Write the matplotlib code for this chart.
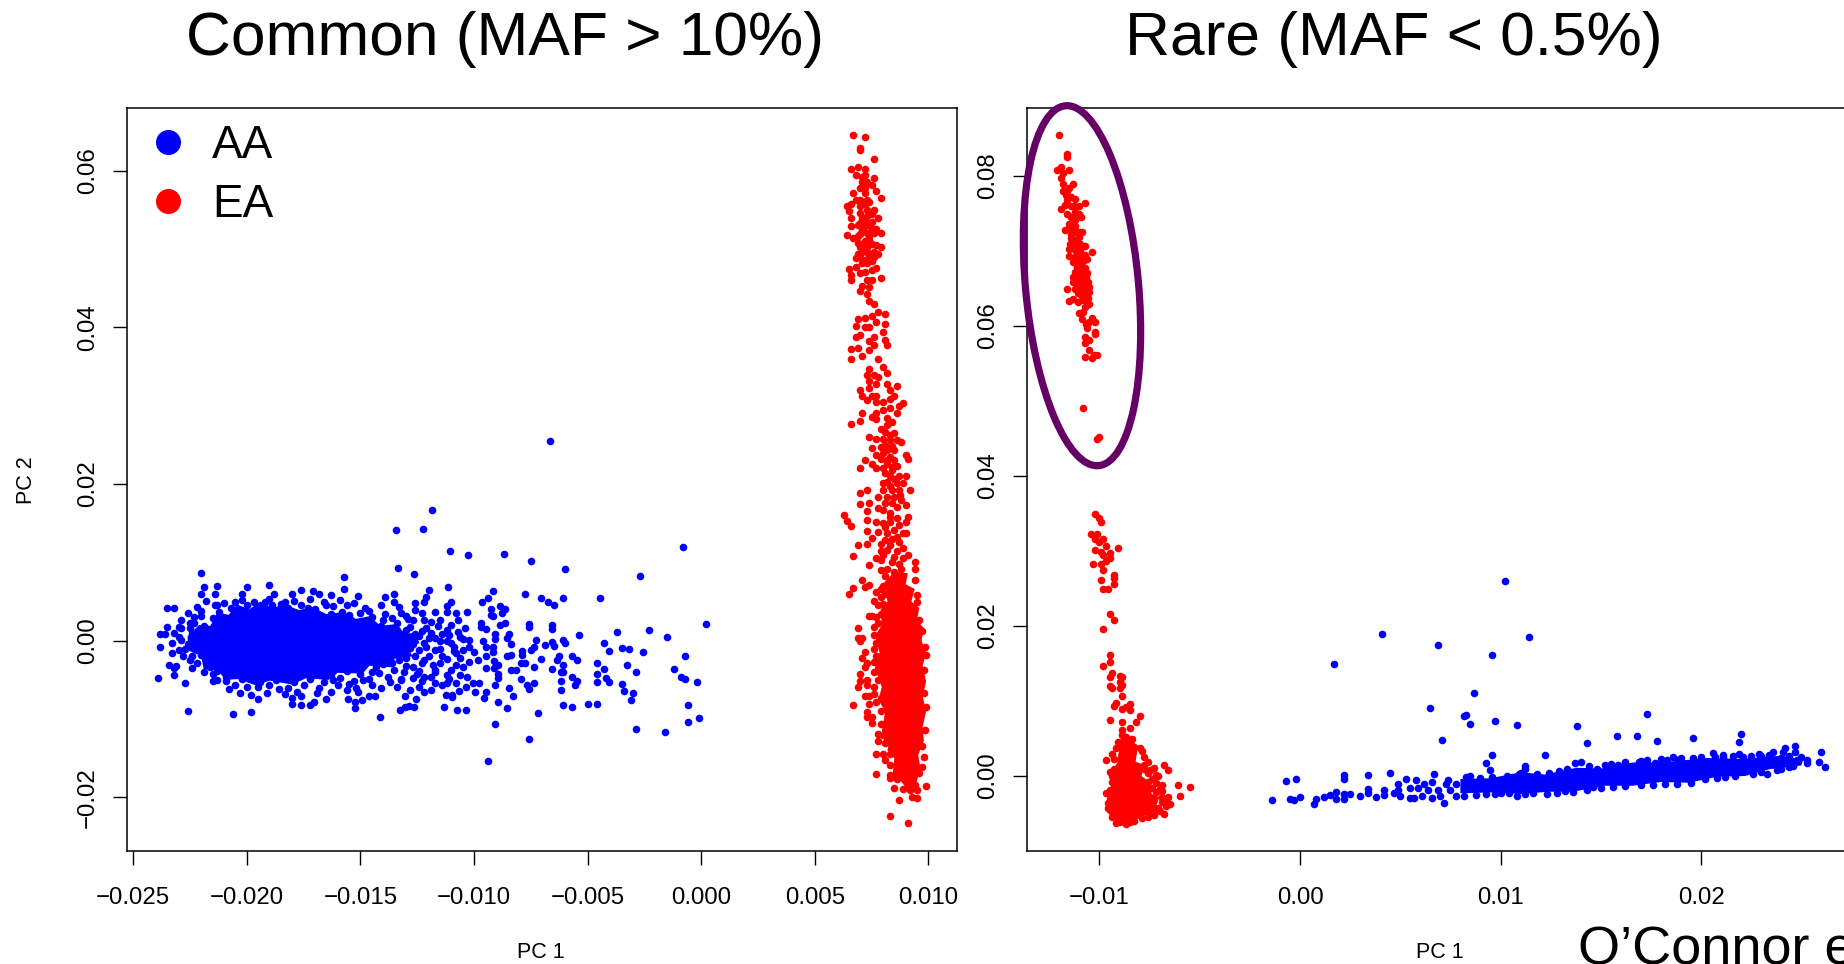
import numpy as np
import matplotlib
matplotlib.use('Agg')
import matplotlib.pyplot as plt
from matplotlib.lines import Line2D
from matplotlib.patches import Ellipse
from matplotlib.transforms import IdentityTransform

# all PC values below are in units of 1e-3 as (PC1, PC2)
common_aa = [
    (-6.67,25.5),(-11.84,16.7),(-12.25,14.3),(-13.45,14.1),(-11.04,11.4),(-10.26,11.0),(-8.67,11.1),(-7.47,10.2),
    (-5.98,9.1),(-0.80,11.9),(-2.69,8.3),(-13.34,9.3),(-12.65,8.5),(-22.0,8.7),(-15.74,8.1),(-15.74,6.6),
    (-19.0,7.1),(-11.14,6.9),(-11.96,6.5),(-7.76,6.0),(-9.15,6.4),(-4.47,5.4),(-6.07,5.5),(-7.07,5.4),(-6.76,4.9),
    (-6.46,4.5),(-9.36,5.4),(-9.65,4.9),(-8.86,4.4),(-8.65,4.1),(-9.25,4.1),(-8.75,3.5),(-9.25,3.3),(-9.15,3.2),
    (-8.86,2.0),(-8.65,2.3),(-7.57,2.1),(-7.57,1.8),(-6.57,2.0),(-6.57,1.5),(0.2,2.1),(-2.29,1.4),(-3.69,1.1),
    (-1.49,0.5),(-5.37,0.7),(-4.28,-0.3),(-6.07,0.1),(-5.98,-0.3),(-7.26,0.1),(-7.37,-0.8),(-7.47,-1.2),(-6.86,-0.5),
    (-6.57,-0.2),(-6.46,-0.7),(-4.07,-1.3),(-3.48,-0.9),(-3.19,-1.1),(-2.58,-1.4),(-0.69,-1.9),(-5.67,-1.9),
    (-5.46,-2.5),(-6.27,-2.0),(-6.36,-2.5),(-7.07,-2.3),(-7.87,-1.3),(-7.87,-1.8),(-7.76,-2.9),(-7.95,-2.9),
    (-6.07,-3.1),(-7.37,-3.3),(-6.57,-3.6),(-6.15,-4.0),(-6.07,-4.0),(-4.58,-2.8),(-4.28,-3.6),(-3.28,-3.1),
    (-2.88,-4.0),(-1.18,-3.6),(-0.88,-4.6),(-0.69,-4.9),(-0.19,-5.3),(-4.58,-4.3),(-4.58,-5.3),(-4.18,-4.8),
    (-4.07,-5.3),(-3.48,-5.5),(-3.38,-6.4),(-2.98,-6.7),(-3.08,-7.6),(-5.67,-4.6),(-5.46,-5.1),(-5.56,-5.7),
    (-6.17,-5.2),(-6.17,-6.3),(-6.07,-8.2),(-5.67,-8.5),(-4.97,-8.1),(-4.58,-8.1),(-0.59,-8.2),(-0.59,-10.4),
    (-0.09,-9.9),(-1.58,-11.6),(-2.88,-11.3),(-7.16,-9.2),(-7.57,-12.5),(-9.36,-15.4),(-9.06,-10.6),(-8.56,-8.6),
    (-8.96,-7.8),(-9.55,-7.3),(-9.45,-6.5),(-9.95,-6.5),(-8.27,-7.1),(-8.46,-6.0),(-9.06,-5.7),(-7.95,-4.9),
    (-7.66,-5.6),(-7.57,-6.1),(-7.37,-5.4),(-8.37,-3.7),(-8.16,-3.8),(-8.96,-4.8),(-8.96,-4.2),(-9.1,-3.5),
    (-9.45,-3.5),(-8.96,-3.1),(-9.1,-2.6),(-9.45,-2.0),(-8.37,-1.8),(-8.56,-2.0),(-8.46,0.9),(-8.56,0.4),(-8.37,-0.4),
    (-9.06,0.9),(-9.06,0.2),(-9.45,1.5),(-9.15,-0.8),(-9.15,-1.5),(-9.45,-0.8),(-10.05,-5.4),(-9.76,-5.4),(-10.35,-5.9),
    (-10.35,-8.8),(-10.75,-8.8),(-11.33,-8.5),(-10.66,-6.4),(-10.95,-6.9),(-10.95,-7.2),(-11.25,-6.9),(-12.65,-8.4),
    (-12.84,-8.3),(-13.05,-8.4),(-13.24,-8.9),(-12.53,-7.5),(-13.03,-7.1),(-14.14,-9.7),(-15.23,-8.6),(-15.23,-7.8),
    (-14.94,-7.6),(-15.53,-7.4),(-14.64,-7.0),(-14.35,-7.0),(-16.53,-7.5),(-17.04,-7.8),(-17.23,-8.2),(-17.63,-8.2),
    (-18.02,-8.1),(-18.02,-7.3),(-17.63,-7.1),(-19.81,-9.1),(-20.61,-9.4),(-22.6,-9.0),(-22.7,-5.4),(-23.9,-4.8),
    (-23.8,-0.8),(-23.8,0.9),(-23.6,0.9),(-23.5,1.8),(-23.2,4.2),(-23.5,4.2),(-23.4,-3.1),(-23.2,-4.4),(-23.2,-3.5),
    (-23.1,-3.2),(-23.3,-1.6),(-23.3,-0.3),(-23.0,1.8),(-22.9,1.6),(-23.0,-1.2),(-22.8,-2.0),(-22.4,-3.5),(-22.4,-2.0),
    (-21.9,-4.0),(-21.5,-4.2),(-21.5,-5.1),(-21.3,-5.0),(-20.8,-6.2),(-20.5,-5.7),(-20.3,-6.7),(-19.8,-6.9),(-19.5,-7.5),
    (-19.1,-6.7),(-19.5,-5.9),(-18.6,-6.1),(-18.3,-6.8),(-17.8,-6.5),(-16.9,-6.7),(-16.3,-6.5),(-15.6,-6.3),(-15.1,-6.5),
    (-14.1,-6.0),(-13.4,-5.9),(-12.8,-6.3),(-12.2,-6.5),(-11.9,-6.3),(-11.4,-5.7),(-10.8,-5.4),(-21.9,6.9),(-21.3,7.0),
    (-20.0,6.8),(-22.0,6.0),(-21.4,6.0),(-20.2,5.9),(-18.8,6.0),(-18.0,6.0),(-17.6,6.5),(-17.1,6.4),(-16.8,6.0),(-16.3,5.8),
    (-15.1,5.7),(-13.9,5.6),(-13.5,5.9),(-13.5,4.9),(-12.1,5.6),(-12.2,4.9),(-12.6,4.8),(-11.0,5.0),(-11.2,4.4),(-11.2,3.7),
    (-11.7,3.7),(-10.8,3.5),(-10.3,3.7),(-10.7,2.6),(-11.5,2.6),(-10.4,1.6),(-9.7,2.2),(-9.7,1.8),(-13.1,0.9),(-12.6,0.9),
    (-12.1,1.6),(-11.2,1.4),(-10.6,0.5),(-10.2,0.1),(-9.6,-0.1),(-10.5,-1.2),(-10.0,-1.4),(-11.0,-0.3),(-11.4,0.9),(-12.2,2.6),
    (-12.7,2.6),(-13.4,2.2),(-14.0,2.6),(-14.5,3.0),(-13.2,3.5),(-12.6,3.9),(-13.1,-1.6),(-12.4,-1.2),(-11.7,-1.2),(-11.2,-2.3),
    (-10.8,-1.6),(-10.2,-2.7),(-9.8,-2.5),(-10.5,-3.3),(-10.8,-3.1),(-11.7,-3.7),(-12.2,-2.5),(-12.7,-3.3),(-13.4,-1.6),
    (-13.8,-4.6),(-13.2,-5.0),(-12.7,-4.8),(-12.2,-4.6),(-11.9,-4.6),(-11.2,-4.4),(-10.6,-4.4),(-10.3,-4.6),(-11.2,-5.4),
    (-11.7,-5.4),(-12.4,-5.9),(-14.5,-4.0),(-14.9,-5.0),(-15.5,-5.5),(-16.2,-5.0),(-14.0,-3.0),(-13.5,-3.8),(-13.0,-2.2),
    (-12.4,-3.9),(-11.5,-2.9),(-10.9,-0.8),(-11.5,0.0),(-12.0,0.3),(-12.9,0.2),(-13.6,0.7),(-14.2,1.3),(-15.0,3.5),(-15.8,3.7),
    (-16.5,4.5),(-17.3,4.2),(-18.3,4.9),(-19.2,5.0),(-20.5,5.0),(-21.3,4.5),(-22.0,3.8),(-22.3,3.0),(-22.5,2.3),
    # denser ring round the core
    (-21.8,5.1),(-21.0,4.8),(-20.2,5.2),(-19.7,4.9),(-19.0,5.3),(-18.5,4.7),(-17.9,5.1),(-17.2,5.3),(-16.6,4.9),(-15.9,5.2),(-15.3,4.8),
    (-22.2,4.3),(-21.4,4.6),(-20.7,4.2),(-20.0,4.5),(-19.4,4.2),(-18.9,4.5),(-18.2,4.2),(-17.6,4.6),(-17.0,4.1),(-16.2,4.4),(-15.6,4.5),
    (-14.8,4.2),(-14.1,4.5),(-13.3,4.3),(-22.6,3.5),(-22.0,3.2),(-21.2,3.7),(-20.5,3.9),(-18.6,3.9),(-17.8,3.6),(-17.0,3.7),(-16.3,3.4),
    (-15.5,3.3),(-14.6,3.8),(-13.9,3.4),(-13.0,3.2),(-12.3,3.5),(-22.9,2.6),(-22.3,2.2),(-21.5,2.9),(-17.9,3.0),(-17.1,2.9),(-16.0,2.9),
    (-15.4,2.7),(-14.7,2.6),(-13.6,2.9),(-12.9,2.8),(-11.9,2.4),(-23.2,1.0),(-22.5,1.6),(-21.9,1.9),(-15.0,2.1),(-14.1,1.9),(-13.4,1.4),
    (-12.8,1.8),(-12.3,1.2),(-11.6,1.9),(-11.0,2.0),(-23.0,0.5),(-22.4,1.0),(-13.9,1.0),(-13.0,1.4),(-12.4,0.6),(-11.9,1.0),(-11.1,0.7),
    (-10.7,1.1),(-22.9,0.1),(-22.6,-0.4),(-13.3,0.0),(-12.7,-0.4),(-12.2,-0.3),(-11.7,0.4),(-11.2,-0.1),(-10.5,0.2),(-22.7,-1.0),(-13.3,-1.0),
    (-12.8,-0.9),(-12.1,-0.8),(-11.5,-1.0),(-10.9,-1.3),(-10.2,-0.8),(-22.5,-2.4),(-22.0,-1.8),(-14.4,-2.0),(-13.7,-2.3),(-13.3,-2.4),(-12.6,-2.0),
    (-12.0,-1.9),(-11.4,-2.0),(-10.6,-2.2),(-22.2,-2.9),(-21.6,-3.3),(-15.6,-3.1),(-15.0,-2.8),(-14.3,-3.4),(-13.6,-2.9),(-13.0,-3.2),(-12.3,-2.9),
    (-11.8,-3.1),(-21.3,-3.9),(-20.9,-4.6),(-16.9,-4.2),(-16.3,-4.4),(-15.6,-3.9),(-15.0,-4.3),(-14.2,-4.1),(-13.1,-4.0),(-12.5,-4.2),(-11.7,-4.0),
    (-11.0,-3.8),(-20.9,-5.2),(-20.2,-4.9),(-19.4,-5.3),(-18.7,-5.0),(-17.9,-5.3),(-17.2,-4.9),(-16.6,-5.3),(-15.9,-4.8),(-15.3,-5.2),(-14.6,-4.9),
    (-13.7,-5.3),(-13.2,-4.9),(-12.3,-5.2),(-11.1,-4.9),(-20.0,-5.9),(-19.0,-5.6),(-18.2,-6.0),(-17.5,-5.7),(-16.8,-6.0),(-16.0,-5.6),(-15.2,-6.0),(-14.5,-5.6),
]
# outline of the saturated part of each cloud, single points can't be read there
common_aa_core = [
    (-22.6,0.6),(-22.1,2.0),(-21.6,1.9),(-21.3,3.6),(-20.8,3.3),(-20.4,4.6),(-19.9,4.0),(-19.4,5.0),(-18.9,4.2),(-18.3,4.6),
    (-17.7,3.9),(-17.1,4.3),(-16.5,3.4),(-15.9,3.6),(-15.2,2.8),(-14.6,3.1),(-14.1,1.9),(-13.5,2.1),(-13.0,0.9),(-12.6,1.0),
    (-12.4,-0.3),(-12.9,-0.9),(-12.7,-2.0),(-13.5,-2.3),(-13.6,-3.4),(-14.6,-3.2),(-14.9,-4.2),(-16.0,-4.1),(-16.4,-5.0),(-17.4,-4.8),
    (-18.0,-5.6),(-19.0,-5.1),(-19.6,-5.7),(-20.4,-4.9),(-20.9,-5.0),(-21.3,-3.8),(-21.9,-3.6),(-22.0,-2.0),(-22.6,-1.2),
]

common_ea = [
    (6.70,64.6),(7.20,64.3),(6.99,62.9),(6.99,62.6),(7.60,61.5),(6.6,60.2),(6.9,60.4),(7.2,60.2),(6.8,59.4),(7.1,59.2),
    (7.6,59.1),(7.1,58.6),(7.5,58.2),(7.0,57.8),(6.7,57.2),(7.7,57.4),(7.9,56.5),(7.2,57.1),(6.8,56.3),(6.4,55.5),(6.6,55.8),
    (6.5,54.8),(7.0,56.3),(7.3,56.3),(7.6,55.0),(7.8,53.9),(6.6,53.9),(7.0,54.6),(7.3,55.0),(6.6,52.9),(6.4,51.8),(6.7,51.4),
    (7.9,52.0),(7.7,52.6),(7.0,53.3),(7.2,53.7),(7.4,53.1),(7.1,52.4),(7.3,52.0),(7.6,52.0),(6.9,51.6),(7.2,51.0),(7.4,51.2),
    (7.7,50.5),(7.9,50.3),(7.8,49.4),(7.6,49.0),(7.3,50.3),(7.0,50.3),(6.8,48.8),(7.0,49.0),(7.2,48.6),(7.4,49.2),(6.5,47.4),
    (6.8,47.7),(6.6,46.7),(6.6,46.0),(7.0,46.9),(7.2,47.0),(7.7,47.6),(7.5,47.3),(7.9,46.3),(7.5,46.0),(7.1,45.3),(7.3,46.0),
    (7.4,45.2),(7.0,44.6),(7.3,44.2),(7.4,43.3),(7.6,43.0),(7.8,42.0),(7.5,41.4),(8.1,41.7),(6.9,41.1),(7.2,41.2),(7.7,40.7),
    (8.1,40.4),(6.8,40.2),(7.2,40.1),(7.4,40.0),(8.0,39.4),(7.0,39.0),(6.8,38.7),(7.6,38.7),(7.4,38.3),(8.1,38.4),(8.2,37.7),
    (6.6,37.2),(6.9,37.4),(7.6,37.7),(7.4,37.1),(7.1,36.3),(6.6,36.0),(7.8,36.0),(8.0,34.9),(7.4,34.7),(8.2,34.2),(7.3,33.9),
    (7.6,33.9),(7.8,33.7),(7.4,33.1),(7.7,32.8),(8.6,32.5),(8.2,32.7),(7.0,32.0),(7.4,32.2),(7.1,31.2),(7.3,30.7),(7.5,31.2),
    (7.7,31.2),(8.0,30.5),(8.3,32.0),(8.5,31.2),(8.3,30.9),(8.9,30.3),(8.7,30.0),(7.7,30.5),(8.3,29.7),(8.6,29.0),(7.1,29.1),
    (8.0,29.4),(7.7,29.0),(7.5,28.6),(7.7,28.3),(7.0,28.0),(6.6,27.7),(8.2,28.4),(8.4,27.9),(8.2,27.5),(8.5,26.5),(8.1,26.7),
    (7.4,26.0),(7.7,25.8),(8.8,25.3),(8.3,25.6),(8.5,24.3),(7.5,24.6),(7.9,24.7),(8.2,24.3),(7.7,23.7),(9.0,23.7),(9.1,23.2),
    (7.2,23.0),(7.5,22.5),(7.0,22.1),(7.7,22.0),(8.6,22.3),(8.2,22.6),(8.4,21.8),(8.1,21.4),(8.7,21.0),(9.0,21.0),
    (7.0,18.9),(7.3,19.2),(7.0,17.4),(7.4,17.6),(7.8,17.0),(7.3,16.6),(6.3,16.1),(6.4,15.3),(6.6,14.7),(7.3,15.4),(7.7,15.1),
    (7.3,14.0),(7.5,13.1),(6.9,12.2),(7.3,12.3),(6.7,10.8),(7.4,9.7),(7.9,11.4),(7.7,10.6),(9.2,19.2),(9.0,17.3),(9.1,15.8),
    (9.0,15.1),(9.0,13.8),(9.1,10.9),(9.4,10.0),(9.4,9.1),(9.4,7.8),(9.5,5.8),(9.5,5.0),(7.1,7.7),(7.4,7.1),(7.2,6.8),(6.7,6.7),
    (6.5,6.0),(7.7,6.2),(7.6,5.1),(7.9,5.6),(8.0,4.7),(7.4,3.1),(7.5,3.1),(6.9,1.6),(6.9,0.4),(7.1,0.4),(7.0,0.0),(7.6,1.8),
    (7.6,0.7),(7.7,-0.3),(7.2,-1.4),(7.1,-2.2),(7.6,-2.7),(7.3,-2.8),(7.2,-3.3),(7.0,-4.3),(7.0,-5.1),(6.9,-5.9),(7.3,-5.0),
    (7.3,-5.7),(7.6,-4.0),(7.6,-5.9),(7.8,-5.0),(7.2,-7.1),(7.4,-7.1),(6.7,-8.2),(7.4,-8.1),(7.7,-7.8),(7.3,-9.1),(7.5,-9.7),
    (7.3,-9.8),(7.5,-10.5),(7.9,-10.6),(7.8,-11.9),(7.8,-12.8),(8.1,-13.0),(7.7,-14.4),(8.0,-14.4),(8.3,-14.4),(8.1,-15.2),
    (7.7,-17.0),(8.3,-17.1),(8.3,-17.5),(8.6,-16.7),(8.6,-17.7),(8.9,-18.9),(8.7,-20.3),(9.3,-19.9),(9.5,-20.1),(9.9,-18.5),
    (8.3,-22.4),(9.1,-23.3),(9.9,-1.8),(9.9,-8.5),(9.8,-14.9),(9.7,-16.1),(9.6,-16.9),(9.7,1.3),(9.6,2.6),(9.85,-0.8),(9.8,-3.7),
    (9.8,-6.7),(9.85,-11.4),(9.7,-13.5),(9.4,-18.4),(9.1,-18.4),(8.0,20.1),(8.3,19.7),(8.6,20.1),(8.9,20.1),(8.2,18.4),(8.5,18.4),
    (8.75,18.6),(8.0,16.7),(8.3,16.3),(8.6,17.1),(8.0,15.0),(8.3,15.2),(8.6,15.6),(7.8,13.9),(8.2,13.7),(8.5,14.1),(8.9,13.7),
    (8.7,12.6),(8.3,12.2),(7.9,12.4),(8.6,11.4),(8.2,11.6),(7.9,10.3),(8.5,10.7),(8.9,10.5),(8.2,9.2),(7.9,9.0),(8.5,8.8),
    # filling in the busy stretches of the column
    (7.0,55.5),(7.2,55.8),(7.4,56.0),(7.1,54.0),(7.3,54.2),(7.5,54.5),(6.9,53.0),(7.2,52.9),(7.5,53.4),(7.0,51.9),(7.4,51.7),(7.5,52.6),
    (6.9,50.7),(7.1,50.6),(7.5,50.6),(7.1,49.6),(7.3,49.6),(7.6,49.6),(6.9,49.3),(7.3,48.2),(7.1,48.2),(7.5,48.4),(7.2,57.8),(7.3,58.6),(7.2,59.5),
    (7.9,27.0),(8.0,25.8),(8.3,26.2),(8.1,25.0),(8.4,24.8),(8.6,25.6),(8.0,24.0),(8.3,23.5),(8.5,23.0),(7.9,23.2),(8.2,23.0),(8.0,22.0),(8.4,22.2),
    (8.3,21.0),(8.5,20.6),(8.2,20.3),(8.0,19.2),(8.4,19.2),(8.7,19.2),(7.8,18.4),(8.1,17.6),(8.4,17.6),(8.8,17.9),(8.3,15.8),(8.7,14.8),(8.1,14.5),
    (8.4,13.0),(8.1,12.9),(8.6,13.2),(8.0,11.0),(8.4,10.0),(8.7,9.8),(8.1,8.3),(8.8,9.2),(8.9,11.8),(8.0,7.0),(7.9,6.6),(8.1,5.9),(7.8,4.5),(7.9,3.4),
    (7.7,3.0),(7.8,2.3),(7.6,-1.0),(7.8,-3.6),(7.7,-2.0),(7.6,-6.8),(7.9,-7.3),(7.9,-9.0),(8.0,-12.0),(8.2,-12.4),(8.3,-15.8),(8.5,-18.8),(9.2,-19.0),(9.5,-19.0),
]
common_ea_core = [
    (8.5,8.8),(9.1,8.6),(9.0,7.2),(9.4,6.6),(9.25,5.0),(9.6,4.2),(9.5,2.6),(9.8,1.6),(9.7,0.0),(9.9,-1.6),(9.75,-3.2),(9.9,-5.2),
    (9.75,-7.1),(9.9,-9.0),(9.75,-11.0),(9.8,-12.8),(9.55,-14.6),(9.65,-16.2),(9.45,-18.4),(9.0,-18.7),(8.7,-17.6),(8.4,-17.9),
    (8.5,-15.0),(8.2,-14.0),(8.3,-12.2),(7.95,-11.6),(8.1,-9.0),(7.8,-7.6),(7.95,-5.9),(7.65,-3.5),(7.85,-1.5),(7.65,0.6),(7.95,2.0),
    (7.9,4.0),(8.2,5.0),(8.05,7.4),
]

rare_aa = [
    (10.2,26.0),(4.1,18.9),(11.4,18.5),(6.9,17.5),(9.6,16.1),(1.7,14.9),(8.7,11.1),(6.5,9.1),(8.3,8.1),(8.2,8.0),(8.5,6.9),
    (9.7,7.3),(10.8,6.8),(13.8,6.7),(17.3,8.3),(15.8,5.4),(16.8,5.3),(14.3,4.4),(17.8,4.7),(19.6,5.1),(22.0,5.6),(21.9,4.6),
    (7.1,4.8),(12.2,2.8),(9.6,2.8),(9.3,1.8),(9.5,0.8),(11.2,1.3),(20.6,3.1),(24.2,3.8),(24.1,3.2),(24.7,4.0),(24.7,3.2),
    (26.0,3.2),(25.9,1.9),(26.2,1.2),(25.3,1.7),(23.3,0.3),(18.6,2.5),(21.1,2.8),(22.9,2.9),(23.6,3.2),(21.9,3.0),
    (-1.4,-3.2),(-0.7,-0.6),(-0.2,-0.4),(-0.5,-3.0),(-0.3,-3.2),(0.0,-2.8),(0.7,-3.7),(0.8,-3.1),(1.2,-2.8),(1.5,-2.5),
    (1.8,-2.1),(1.8,-3.0),(2.2,0.1),(2.2,-0.4),(2.2,-2.4),(2.2,-3.0),(2.5,-2.4),(3.0,-2.6),(3.4,0.2),(3.4,-1.7),(3.4,-2.3),
    (3.8,-2.8),(4.2,-1.9),(4.2,-2.5),(4.5,0.4),(4.7,-2.3),(4.9,-1.0),(4.9,-1.9),(5.0,-2.6),(5.3,-0.4),(5.5,-1.6),(5.5,-2.9),
    (5.7,-2.9),(5.8,-0.5),(5.9,-1.6),(6.1,-2.6),(6.2,-1.0),(6.4,-1.9),(6.6,-0.8),(6.6,-2.9),(6.7,0.3),(6.9,-1.9),(7.0,-2.6),
    (7.2,-3.6),(7.3,-1.0),(7.4,-0.5),(7.5,-1.9),(7.8,-1.0),(7.8,-2.6),(8.2,-2.6),(8.2,-1.6),(8.3,-0.1),(8.5,0.0),
    (13.7,1.7),(14.0,1.9),(15.5,1.6),(16.9,1.9),(17.3,2.1),(18.3,2.1),(20.0,2.5),(11.6,-2.3),(12.3,-2.4),(13.6,-2.1),(15.0,-1.6),
    (19.5,-0.9),(21.7,0.0),(23.8,0.8),(24.4,1.2),(9.7,-2.4),(10.4,-2.3),(11.0,0.4),(11.2,1.0),(12.4,0.4),(12.9,0.7),(13.3,1.0),
    (14.8,1.0),(15.85,1.5),(17.7,1.7),(18.8,2.1),(21.1,2.6),(22.5,2.7),(24.0,2.4),(24.8,2.1),
    (9.0,-0.2),(9.6,-0.1),(10.3,0.0),(10.9,0.3),(11.8,0.3),(14.4,1.3),(15.2,1.5),(16.2,1.9),(17.0,2.0),(18.0,2.3),(19.0,2.4),(19.6,2.4),
    (20.7,2.6),(21.6,2.7),(22.1,2.6),(23.0,2.7),(23.4,2.8),(24.4,2.7),(25.0,2.6),(25.3,2.2),(8.8,-2.5),(9.3,-2.4),(10.0,-2.2),(10.8,-2.6),
    (11.2,-2.4),(12.8,-2.2),(13.2,-2.0),(14.3,-1.9),(14.6,-1.5),(15.6,-1.5),(16.2,-1.3),(17.0,-1.2),(17.6,-1.2),(18.2,-1.0),(18.8,-1.0),
    (20.2,-0.4),(20.8,-0.2),(21.2,-0.1),(22.6,0.3),(23.0,0.5),(24.0,1.0),(24.6,1.4),
]
rare_aa_core = [
    (8.0,-0.4),(9.5,-0.3),(11.0,0.5),(12.2,0.2),(13.8,1.1),(15.0,1.0),(16.6,1.8),(18.0,1.8),(20.3,2.4),(22.0,2.3),(24.0,2.7),(25.1,2.2),
    (25.0,1.4),(23.4,0.9),(22.2,0.0),(20.8,-0.1),(19.4,-0.9),(18.0,-0.8),(16.6,-1.3),(15.2,-1.3),(13.6,-2.1),(12.4,-2.1),(11.0,-2.4),(9.5,-2.2),(8.0,-2.3),
]

rare_ea = [
    (-12.0,85.5),(-11.6,82.9),(-11.6,82.6),(-11.9,81.2),(-12.12,80.8),(-11.5,80.8),(-11.82,80.4),(-11.9,79.8),(-11.8,79.0),
    (-11.3,78.9),(-11.5,78.4),(-11.8,78.0),(-11.69,77.5),(-11.42,77.2),(-11.2,77.0),(-11.64,76.8),(-10.71,76.4),(-11.25,76.0),
    (-11.0,76.0),(-11.7,76.1),(-11.9,75.6),(-11.64,75.0),(-11.22,75.2),(-10.9,74.6),(-11.44,74.6),(-11.22,74.1),(-11.52,73.6),
    (-11.22,73.3),(-11.7,72.8),(-11.47,73.0),(-11.17,72.6),(-10.89,72.5),(-11.42,71.8),(-11.03,71.9),(-11.22,71.5),(-11.47,71.0),
    (-10.97,71.0),(-10.71,70.7),(-11.52,70.3),(-11.22,70.1),(-10.97,70.1),(-10.39,69.9),(-11.5,69.3),(-11.22,69.2),(-10.89,69.2),
    (-10.71,69.5),(-10.6,68.9),(-11.34,68.6),(-10.97,68.4),(-10.71,67.7),(-11.22,67.2),(-10.97,67.2),(-10.6,67.1),(-11.3,66.6),
    (-10.97,66.4),(-10.67,66.6),(-11.34,65.9),(-11.06,65.7),(-10.77,65.7),(-10.56,65.9),(-10.51,65.2),(-11.6,64.9),(-11.22,65.0),
    (-10.89,65.0),(-11.06,64.4),(-10.51,64.6),(-11.5,63.4),(-11.3,63.6),(-11.06,63.2),(-10.81,63.5),(-10.56,63.7),(-10.51,62.9),
    (-10.71,62.6),(-11.0,61.7),(-10.81,61.9),(-10.89,60.9),(-10.39,61.1),(-10.22,60.6),(-10.67,60.3),(-10.51,60.6),(-10.6,59.7),
    (-10.22,59.2),(-10.22,58.9),(-10.71,58.6),(-10.51,58.2),(-10.71,57.7),(-10.51,56.8),(-10.12,56.1),(-10.27,56.1),(-10.71,55.9),
    (-10.39,55.7),(-10.81,49.1),(-10.12,45.0),(-10.0,45.2),
    (-11.0,72.6),(-11.1,70.7),(-11.0,69.9),(-11.15,68.9),(-10.8,68.7),(-10.9,67.8),(-11.1,67.9),(-10.8,67.0),(-11.0,66.0),(-10.9,66.9),
    (-10.8,66.3),(-11.1,66.9),(-10.9,65.5),(-10.7,65.3),(-11.1,65.3),(-10.9,64.2),(-10.7,64.5),(-10.7,63.5),(-11.3,70.8),(-11.4,72.3),
    (-11.3,74.5),(-11.0,74.9),(-11.4,76.0),(-11.6,78.0),
    (-10.2,35.0),(-10.0,34.4),(-9.9,33.9),(-10.4,32.3),(-10.1,32.3),(-10.2,31.6),(-9.8,31.6),(-10.0,31.2),(-9.7,30.7),(-9.1,30.4),
    (-10.2,30.2),(-9.9,29.9),(-9.5,29.8),(-9.8,29.5),(-9.5,29.1),(-9.7,28.7),(-10.3,28.3),(-9.9,28.3),(-9.8,27.5),(-9.3,26.8),
    (-9.3,26.4),(-9.9,26.2),(-9.3,25.6),(-9.8,24.9),(-9.6,24.9),(-9.5,21.6),(-9.3,20.8),(-9.8,19.6),(-9.5,16.1),(-9.5,15.2),
    (-9.8,14.7),(-9.4,13.8),(-9.5,13.2),(-9.0,13.4),(-8.9,13.2),(-9.0,12.6),(-9.5,12.0),(-9.4,11.7),(-8.9,12.1),(-9.0,11.7),
    (-8.9,10.7),(-9.2,9.8),(-9.3,9.3),(-8.5,9.6),(-8.7,9.2),(-8.9,8.9),(-8.5,8.8),(-8.0,8.0),(-9.5,7.5),(-8.9,7.2),(-8.2,7.2),
    (-8.5,6.4),(-8.9,6.2),(-8.9,5.5),(-8.4,5.0),(-9.1,4.6),(-8.0,3.8),(-7.9,3.4),(-9.2,3.7),(-9.4,3.0),(-7.8,2.5),(-9.7,2.1),
    (-7.8,1.5),(-7.3,1.1),(-6.8,1.5),(-6.6,0.8),(-7.8,1.0),(-9.5,0.6),(-7.6,0.4),(-7.1,0.0),(-9.4,-0.8),(-6.9,-1.2),(-6.1,-1.2),
    (-5.5,-1.5),(-6.0,-2.6),(-9.7,-2.2),(-9.5,-2.2),(-9.6,-3.6),(-7.2,-2.1),(-6.6,-2.8),(-6.9,-2.8),(-6.5,-3.7),(-6.7,-4.0),
    (-6.8,-5.1),(-7.3,-5.2),(-7.6,-5.5),(-9.2,-6.3),(-8.7,-6.4),(-9.5,-4.5),(-9.4,-5.4),(-7.1,-4.3),(-7.4,-1.6),(-7.6,-0.8),
    (-8.9,4.5),(-8.6,4.5),(-8.4,4.0),(-8.7,5.2),(-9.0,3.9),(-8.6,3.8),(-8.3,3.9),(-7.6,1.9),(-7.5,0.8),(-7.2,0.2),(-7.4,-0.4),(-7.2,-0.9),
    (-7.0,-1.7),(-6.9,-2.0),(-6.7,-3.3),(-6.9,-3.5),(-7.0,-4.7),(-7.3,-4.5),(-7.5,-5.0),(-7.9,-5.6),(-8.3,-6.0),(-8.5,-6.1),(-9.0,-6.1),
    (-9.5,-3.0),(-9.6,-4.2),(-9.5,-1.8),(-9.4,0.0),(-9.3,2.3),(-9.3,1.0),
]
rare_ea_core = [
    (-9.06,3.0),(-8.8,4.6),(-8.4,3.8),(-8.1,3.6),(-8.2,1.9),(-7.8,1.5),(-7.9,0.0),(-7.5,-0.8),(-7.4,-2.4),(-7.0,-2.8),(-7.2,-4.2),
    (-7.0,-5.0),(-7.7,-5.2),(-8.1,-5.8),(-8.7,-6.4),(-9.4,-5.9),(-9.6,-4.4),(-9.4,-3.4),(-9.55,-2.0),(-9.3,-0.8),(-9.35,0.8),(-9.1,1.8),
]

common_xticks = [-0.025, -0.020, -0.015, -0.010, -0.005, 0.000, 0.005, 0.010]
common_yticks = [-0.02, 0.00, 0.02, 0.04, 0.06]
rare_xticks = [-0.01, 0.00, 0.01, 0.02]
rare_yticks = [0.00, 0.02, 0.04, 0.06, 0.08]

W, H = 1844, 964
plt.rcParams['font.family'] = 'Liberation Sans'
plt.rcParams['axes.linewidth'] = 1.1

fig = plt.figure(figsize=(W / 100, H / 100), dpi=100)
ax1 = fig.add_axes([127 / W, 1 - 851 / H, 830 / W, 743 / H])
ax2 = fig.add_axes([1026.7 / W, 1 - 851 / H, (W - 1026.7) / W, 743 / H])


def draw_cloud(ax, points, core, color):
    pts = np.array(points) * 1e-3
    ax.scatter(pts[:, 0], pts[:, 1], s=30, color=color, linewidths=0, zorder=3)
    outline = np.array(core) * 1e-3
    ax.fill(outline[:, 0], outline[:, 1], color=color, lw=0, zorder=3)


draw_cloud(ax1, common_aa, common_aa_core, '#0000ff')
draw_cloud(ax1, common_ea, common_ea_core, '#ff0000')
draw_cloud(ax2, rare_aa, rare_aa_core, '#0000ff')
draw_cloud(ax2, rare_ea, rare_ea_core, '#ff0000')

ax1.set_xlim(-0.02527, 0.01126)
ax1.set_ylim(-0.02684, 0.06799)
ax2.set_xlim(-0.01363, 0.02713)
ax2.set_ylim(-0.0100, 0.08907)
ax2.spines['right'].set_visible(False)

ax1.set_xticks(common_xticks, [f'{v:.3f}'.replace('-', '\u2212') for v in common_xticks])
ax1.set_yticks(common_yticks, [f'{v:.2f}'.replace('-', '\u2212') for v in common_yticks])
ax2.set_xticks(rare_xticks, [f'{v:.2f}'.replace('-', '\u2212') for v in rare_xticks])
ax2.set_yticks(rare_yticks, [f'{v:.2f}' for v in rare_yticks])

for ax in (ax1, ax2):
    ax.tick_params(axis='both', length=10, width=1.0, labelsize=17.3)
    ax.tick_params(axis='x', pad=16)
    ax.tick_params(axis='y', pad=10)
    for lab in ax.get_yticklabels():
        lab.set_rotation(90)
        lab.set_va('center')

fig.text(541 / W, 1 - 952 / H, 'PC 1', fontsize=15.5, ha='center', va='center')
fig.text(1440 / W, 1 - 952 / H, 'PC 1', fontsize=15.5, ha='center', va='center')
fig.text(27 / W, 1 - 480 / H, 'PC 2', fontsize=15.5, rotation=90, ha='center', va='center')

fig.text(505 / W, 1 - 40 / H, 'Common (MAF > 10%)', fontsize=44.8, ha='center', va='center')
fig.text(1394 / W, 1 - 40 / H, 'Rare (MAF < 0.5%)', fontsize=44.8, ha='center', va='center')
fig.text(1578 / W, 1 - 949 / H, 'O\u2019Connor et al.', fontsize=39, ha='left', va='center')

handles = [Line2D([], [], ls='', marker='o', ms=17, color='#0000ff', label='AA'),
           Line2D([], [], ls='', marker='o', ms=17, color='#ff0000', label='EA')]
ax1.legend(handles=handles, loc='upper left', bbox_to_anchor=(0.0, 1.015), frameon=False,
           fontsize=33, labelspacing=0.33, handlelength=0.6, handletextpad=0.65,
           borderpad=0.6, borderaxespad=0)

# the purple ring around the EA tip, placed in pixels of the figure
fig.add_artist(Ellipse((1082, H - 285.7), 113, 361.4, angle=5.28, fill=False,
                       edgecolor='#660066', lw=5.2, transform=IdentityTransform(), zorder=5))

fig.savefig('out.png', dpi=100)
